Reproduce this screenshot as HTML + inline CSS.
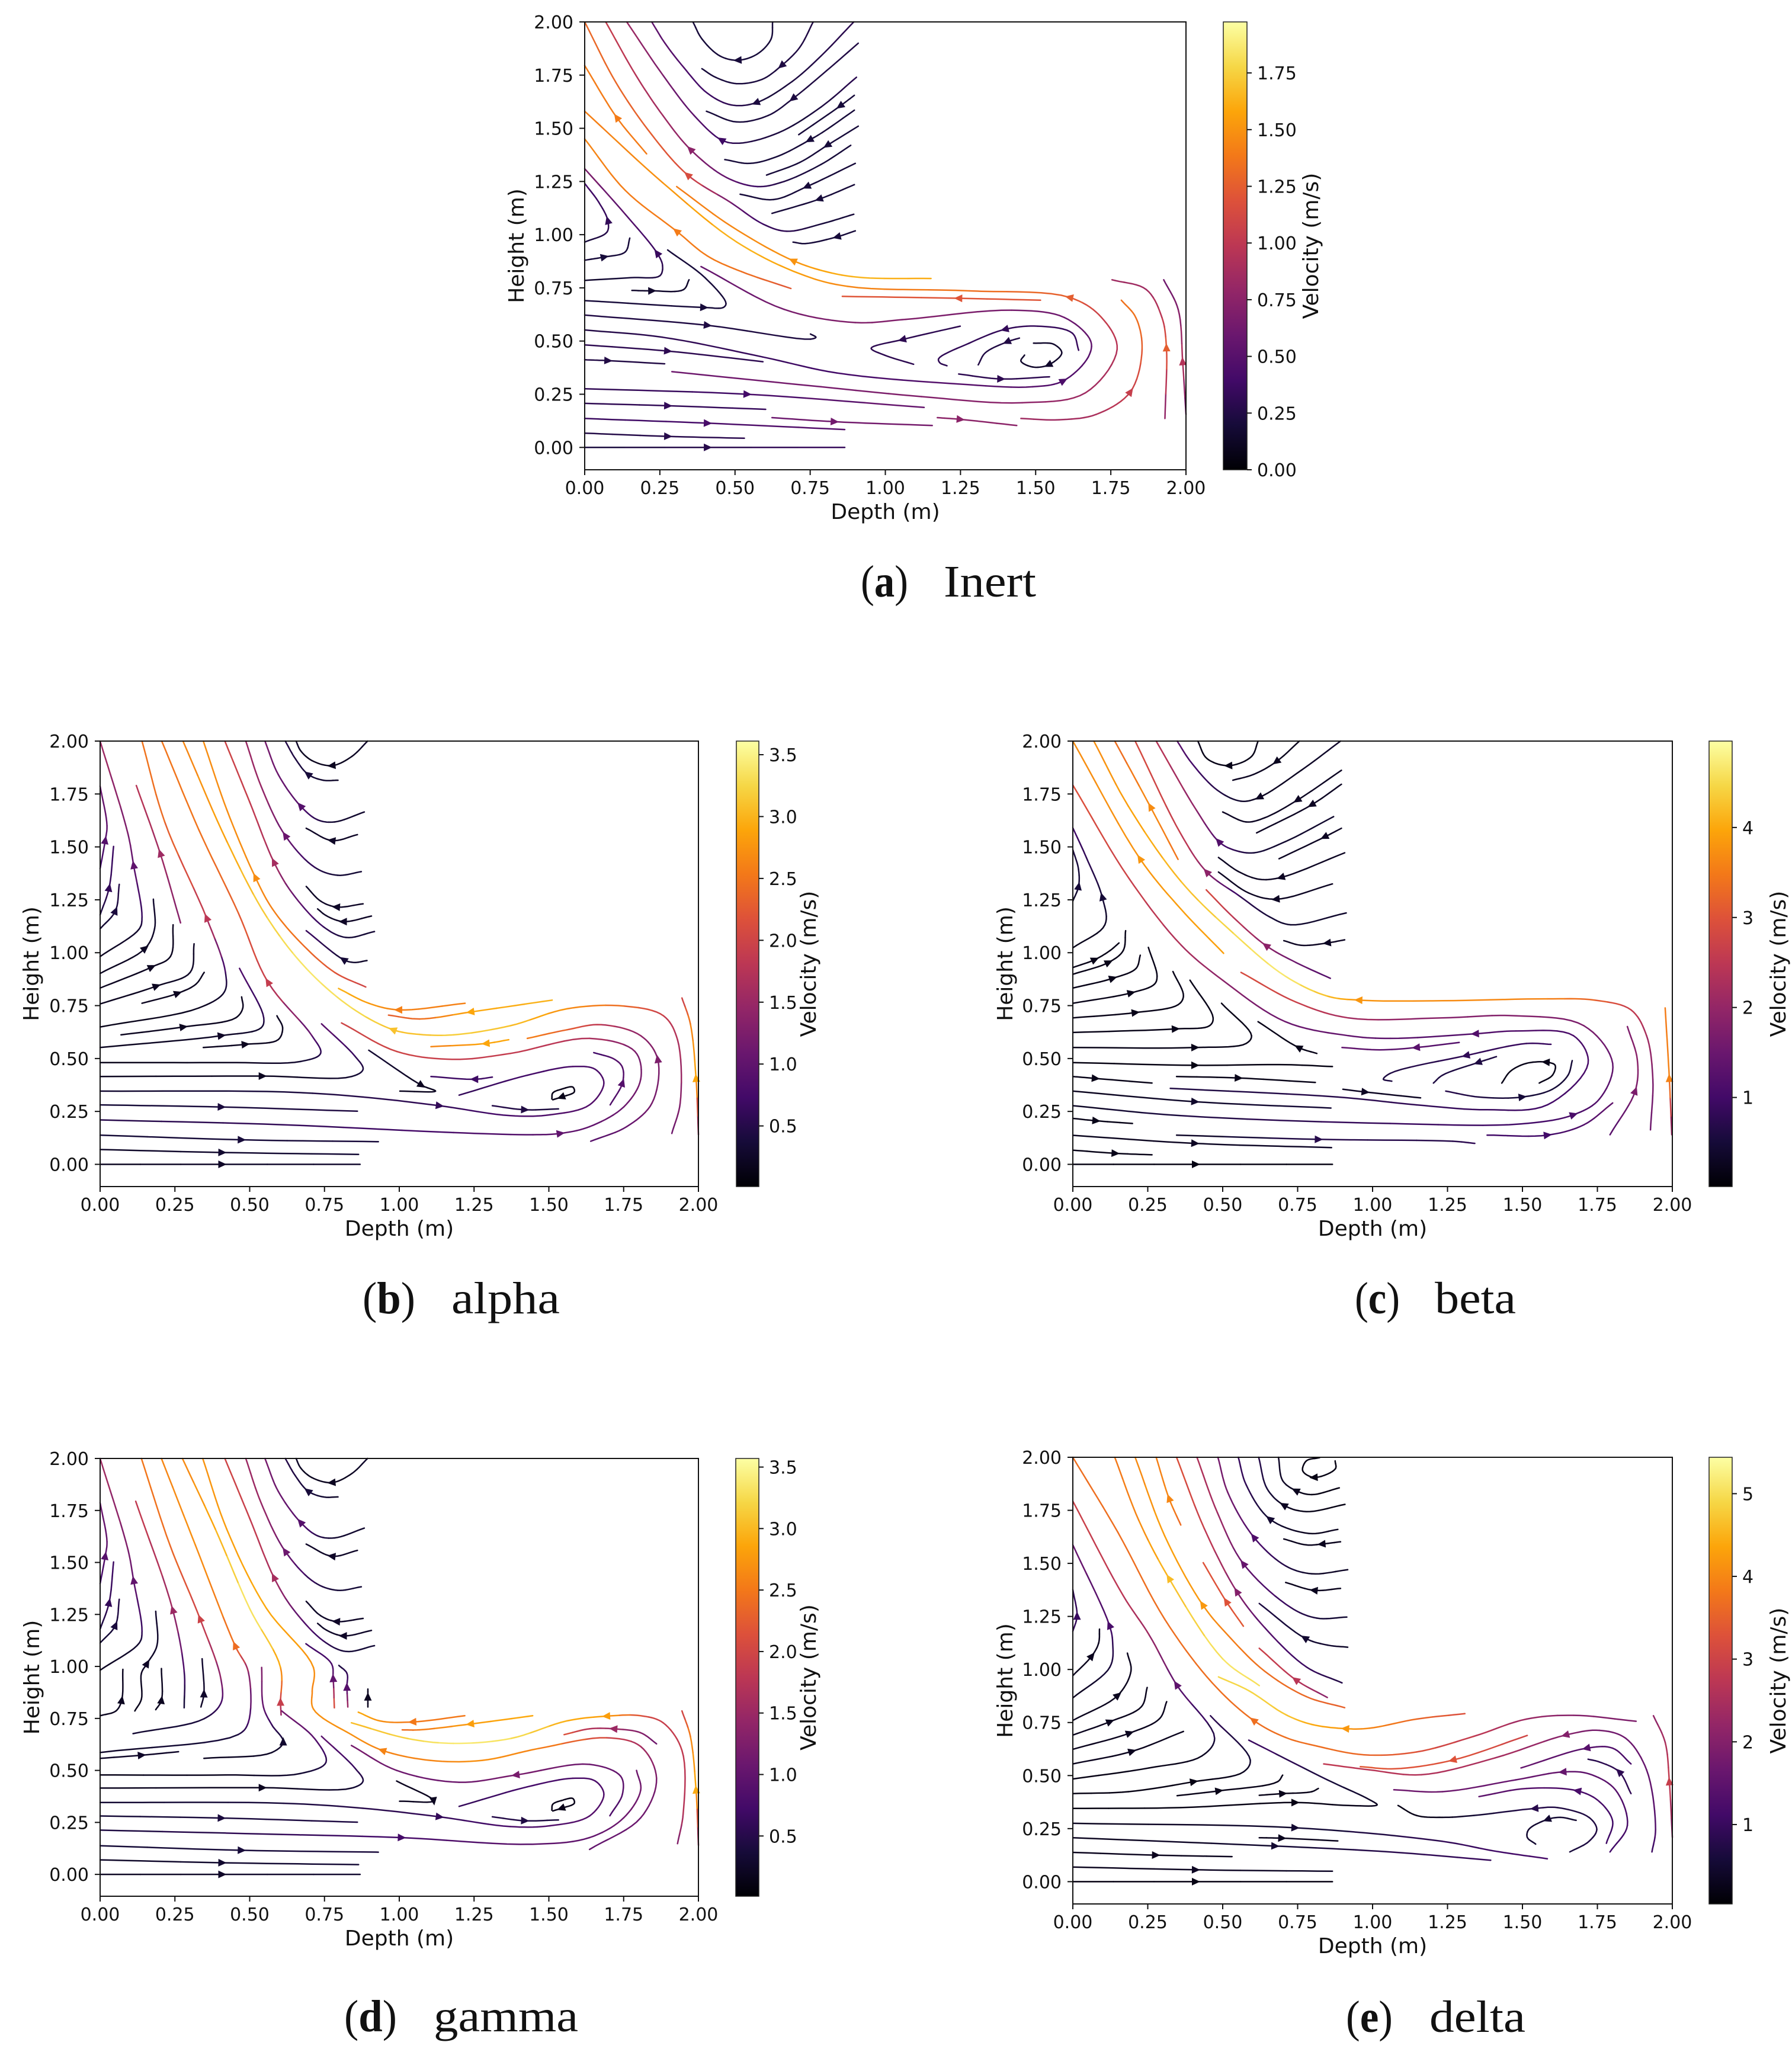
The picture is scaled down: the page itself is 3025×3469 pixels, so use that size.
<!DOCTYPE html>
<html lang="en">
<head>
<meta charset="utf-8">
<title>Velocity streamlines</title>
<style>
html,body{margin:0;padding:0;background:#fff;width:3025px;height:3469px;overflow:hidden}
svg{display:block}
text{font-family:"DejaVu Sans","Liberation Sans",sans-serif;fill:#111}
.cap{font-family:"Liberation Serif",serif;font-size:76px}
</style>
</head>
<body>
<svg id="fig" xmlns="http://www.w3.org/2000/svg" width="3025" height="3469" viewBox="0 0 3025 3469">
<defs>
<linearGradient id="inferno" x1="0" y1="1" x2="0" y2="0">
<stop offset="0" stop-color="#000004"/><stop offset=".1" stop-color="#160b39"/><stop offset=".2" stop-color="#420a68"/><stop offset=".3" stop-color="#6a176e"/><stop offset=".4" stop-color="#932667"/><stop offset=".5" stop-color="#bc3754"/><stop offset=".6" stop-color="#dd513a"/><stop offset=".7" stop-color="#f37819"/><stop offset=".8" stop-color="#fca50a"/><stop offset=".9" stop-color="#f6d746"/><stop offset="1" stop-color="#fcffa4"/>
</linearGradient>
</defs>
</svg>
<script>
// ---- axis data ----
const xTickValues = [0, 0.25, 0.5, 0.75, 1, 1.25, 1.5, 1.75, 2];
const yTickValues = [0, 0.25, 0.5, 0.75, 1, 1.25, 1.5, 1.75, 2];
const inertBarTicks = [0, 0.25, 0.5, 0.75, 1, 1.25, 1.5, 1.75];
const alphaBarTicks = [0.5, 1, 1.5, 2, 2.5, 3, 3.5];
const betaBarTicks = [1, 2, 3, 4];
const gammaBarTicks = [0.5, 1, 1.5, 2, 2.5, 3, 3.5];
const deltaBarTicks = [1, 2, 3, 4, 5];
const inertRange = [0, 1.975];
const alphaRange = [0.01, 3.61];
const betaRange = [0.01, 4.96];
const gammaRange = [0.01, 3.57];
const deltaRange = [0.04, 5.44];

// ---- streamlines: s = speed along the line (m/s), a = arrow vertex, p = x,y pairs in metres, in flow order ----
const inertLines = [
{s:[.2],a:3,p:[.625,2,.62,1.92,.575,1.85,.51,1.82,.45,1.84,.39,1.92,.36,2]},
{s:[.25,.2],a:2,p:[.76,2,.715,1.88,.655,1.795,.59,1.73,.505,1.71,.435,1.74,.39,1.78]},
{s:[.3,.25,.2,.3,.4,.5,.55],a:3,p:[.895,2,.786,1.84,.69,1.72,.57,1.62,.487,1.61,.408,1.665,.33,1.785,.267,1.9,.223,2]},
{s:[.3,.2,.25,.4,.6,.85],a:4,p:[.904,1.74,.786,1.6,.646,1.48,.514,1.43,.455,1.445,.364,1.56,.26,1.75,.14,2]},
{s:[.25,.2],a:2,p:[.91,1.9,.804,1.77,.693,1.64,.61,1.56,.505,1.53,.405,1.58]},
{s:[.2],a:1,p:[.897,1.655,.85,1.605,.712,1.47]},
{s:[.2],a:2,p:[.897,1.585,.79,1.48,.748,1.445,.645,1.37,.55,1.335,.466,1.353]},
{s:[.2],a:1,p:[.91,1.51,.807,1.42,.716,1.34,.605,1.28]},
{s:[.2,.2,.25,.35,.55,.75,.85,.95,1.05],a:5,p:[.885,1.42,.786,1.33,.663,1.25,.575,1.226,.47,1.27,.352,1.4,.26,1.56,.17,1.75,.07,2]},
{s:[.2],a:1,p:[.9,1.335,.739,1.226,.628,1.165,.517,1.19]},
{s:[.2],a:1,p:[.897,1.235,.78,1.167,.623,1.1]},
{s:[.2,.2,.3,.35,.6,1.15,1.25,1.3,1.3],a:5,p:[.895,1.096,.786,1.05,.672,1.016,.593,1.05,.487,1.15,.343,1.28,.223,1.47,.104,1.715,0,2]},
{s:[.2],a:1,p:[.9,1.018,.84,.99,.733,.958,.693,.965]},
{s:[1.4],a:1,p:[.206,1.38,.107,1.55,0,1.795]},
{s:[.6,.65,.7,.75,.85,.95,1.05,1.25,1.35,1.45,1.55,1.65,1.5,1.4],a:7,p:[.29,.356,.786,.285,1.12,.239,1.455,.21,1.666,.257,1.771,.462,1.719,.611,1.613,.705,1.279,.736,.874,.757,.716,.816,.505,.966,.259,1.245,0,1.58]},
{s:[1.6,1.65,1.6,1.5,1.45,1.4],a:3,p:[1.152,.794,.927,.798,.821,.82,.693,.878,.487,1.04,.306,1.226]},
{s:[1.2,1.35,1.4,1.4,1.4,1.45],a:3,p:[.686,.747,.522,.826,.408,.9,.306,1.016,.135,1.208,0,1.45]},
{s:[.15,.2,.25,.3,.35,.5,.7],a:4,p:[0,.785,.153,.798,.25,.807,.259,.854,.241,.913,.135,1.096,0,1.31]},
{s:[.2,.3,.35,.4],a:2,p:[0,.965,.074,1.012,.077,1.066,.047,1.152,0,1.241]},
{s:[.2],a:1,p:[0,.88,.065,.895,.135,.919,.15,.984]},
{s:[.15],a:1,p:[.157,.738,.223,.736,.329,.742,.347,.788]},
{s:[.2],a:1,p:[0,.69,.396,.658,.461,.658,.47,.677,.4,.798,.276,.928]},
{s:[.25,.2],a:1,p:[0,.622,.408,.574,.751,.509,.769,.518,.751,.533]},
{s:[.25,.3,.35,.4,.5,.5,.45,.5,.55,.6,.65,.7,.7,.65,.55],a:6,p:[0,.552,.259,.518,.593,.425,.839,.35,1.244,.298,1.49,.285,1.592,.313,1.675,.425,1.683,.5,1.595,.611,1.42,.645,1.068,.602,.9,.587,.663,.649,.387,.85]},
{s:[.3],a:1,p:[0,.482,.276,.453,.593,.403]},
{s:[.25],a:1,p:[0,.412,.077,.408,.266,.393]},
{s:[.3,.4,.6],a:1,p:[0,.276,.54,.25,1.129,.188]},
{s:[.3,.35],a:1,p:[0,.207,.276,.196,.602,.179]},
{s:[.35,.5],a:1,p:[0,.136,.408,.114,.865,.084]},
{s:[.25,.3],a:1,p:[0,.067,.276,.052,.531,.043]},
{s:[.2,.35],a:1,p:[0,0,.408,0,.865,0]},
{s:[.6,.65],a:1,p:[.623,.14,.83,.121,1.156,.103]},
{s:[.75],a:1,p:[1.173,.14,1.249,.132,1.437,.103]},
{s:[.85,.85,.9,1.05,1.25,1.35,1.35],a:3,p:[1.451,.136,1.578,.13,1.701,.155,1.815,.261,1.854,.462,1.833,.611,1.785,.692]},
{s:[.7,1.25,1,.85,.85],a:1,p:[1.93,.136,1.935,.468,1.92,.611,1.868,.742,1.754,.788]},
{s:[.6,.95,.7,.6],a:1,p:[2,.155,1.989,.403,1.974,.649,1.926,.788]},
{s:[1.2],a:1,p:[1.516,.692,1.244,.701,.857,.71]},
{s:[.3],a:1,p:[1.249,.57,1.057,.507,.953,.466,.997,.434,1.094,.391]},
{s:[.35,.3],a:3,p:[1.643,.457,1.622,.537,1.507,.57,1.398,.555,1.279,.49,1.177,.416,1.182,.397,1.205,.384]},
{s:[.25],a:1,p:[1.446,.514,1.405,.496,1.332,.444,1.309,.388]},
{s:[.15],a:3,p:[1.493,.49,1.56,.485,1.587,.444,1.543,.388,1.49,.378,1.451,.406,1.463,.434]},
{s:[.3],a:1,p:[1.244,.345,1.384,.322,1.546,.332]}
];
const alphaGammaSharedLines = [
{s:[.3,.2,.2,.2,.3],a:2,p:[.894,2,.841,1.927,.775,1.884,.708,1.908,.67,1.955,.655,2]},
{s:[.25,.5],a:2,p:[.795,1.815,.746,1.815,.695,1.843,.652,1.918,.619,2]},
{s:[.3,.3,.5,.9,1.1,1.2],a:3,p:[.883,1.665,.784,1.618,.727,1.628,.67,1.693,.595,1.843,.551,2]},
{s:[.25],a:1,p:[.86,1.558,.775,1.53,.689,1.588]},
{s:[.35,.35,.5,1.1,1.5,1.5],a:3,p:[.873,1.383,.794,1.366,.718,1.403,.619,1.553,.538,1.787,.487,2]},
{s:[.25],a:1,p:[.879,1.231,.79,1.216,.737,1.244,.689,1.313]},
{s:[.25],a:1,p:[.907,1.173,.813,1.147,.756,1.175,.727,1.207]},
{s:[.35,.35,.6,1.1,1.6,1.9,2],a:4,p:[.917,1.1,.822,1.072,.746,1.123,.642,1.282,.581,1.428,.5,1.712,.417,2]},
{s:[.3,.4,.5,.6,.8,.85,.9,.85,.8,.8,.75,.6],a:3,p:[0,.346,.614,.342,.879,.318,1.134,.277,1.371,.23,1.504,.234,1.636,.281,1.684,.384,1.655,.449,1.58,.462,1.428,.421,1.2,.327]},
{s:[.35,.45],a:1,p:[0,.281,.405,.271,.86,.251]},
{s:[.35,.4],a:1,p:[0,.138,.472,.116,.93,.107]},
{s:[.25,.35],a:1,p:[0,.07,.407,.056,.864,.047]},
{s:[.2,.3],a:1,p:[0,0,.407,0,.869,0]},
{s:[.2,.2,.3,.4,.6,1],a:1,p:[0,.415,.542,.417,.841,.415,.879,.449,.85,.514,.74,.664]},
{s:[.2,.3,.6,1,1.2,1.6],a:3,p:[0,.982,.131,1.113,.14,1.169,.112,1.413,.093,1.562,0,2]},
{s:[.7,.9,1,1.1],a:1,p:[0,1.398,.017,1.53,.023,1.6,0,1.787]},
{s:[.4,.6,.7],a:1,p:[0,1.179,.03,1.306,.045,1.502]},
{s:[.3,.4,.5],a:1,p:[0,1.113,.051,1.197,.064,1.323]},
{s:[1.4,2.9,2.6,1.9],a:1,p:[2,.14,1.992,.406,1.973,.664,1.945,.786]},
{s:[.5,.4],a:1,p:[1.311,.277,1.419,.258,1.532,.262]},
{s:[.15],a:5,p:[1.51,.309,1.513,.337,1.542,.355,1.58,.365,1.585,.342,1.542,.318,1.513,.305]}
];
const alphaOnlyLines = [
{s:[.25,.3,.35,.7],a:2,p:[.892,.963,.85,.954,.814,.967,.689,1.104]},
{s:[2,2.2,2.45,2.6,2.7,2.7,2.7],a:4,p:[.888,.838,.784,.907,.67,1.048,.576,1.207,.519,1.356,.424,1.674,.345,2]},
{s:[3,2.9,2.4,2.3],a:1,p:[1.511,.776,1.239,.72,1.068,.687,.964,.705]},
{s:[2.6,2.6,2.8,3],a:1,p:[1.22,.761,.998,.73,.898,.761,.797,.831]},
{s:[.15,.2,.3,.5,.9,1.9,2.3,2.5,2.5],a:5,p:[0,.481,.424,.481,.67,.486,.737,.524,.708,.608,.561,.861,.462,1.188,.33,1.581,.206,2]},
{s:[1.1,1.3,1.7,1.9,2.4,2.7,3.1,3.2,3.1,3.1,3.3,3.4,3.2,2.9,2.6],a:9,p:[1.911,.146,1.939,.29,1.93,.589,1.883,.702,1.75,.748,1.561,.735,1.371,.655,1.182,.612,1.068,.614,.979,.636,.841,.739,.689,.926,.557,1.169,.424,1.525,.277,2]},
{s:[.9,1.05,1.2,1.25,1.4,1.8,2.3,2.6],a:3,p:[1.64,.109,1.76,.178,1.845,.29,1.864,.496,1.807,.608,1.674,.66,1.561,.636,1.428,.595]},
{s:[.5,.6,.8,.9,1,1,1.1,1.2,1.2,1.7,1.9,1.9,2,2],a:4,p:[0,.21,.614,.187,1.182,.15,1.447,.14,1.538,.146,1.636,.178,1.75,.271,1.807,.402,1.788,.533,1.636,.595,1.371,.524,1.182,.496,.992,.533,.807,.668]},
{s:[.85,.9,.9,.9,.7],a:1,p:[1.705,.281,1.746,.384,1.746,.458,1.72,.496,1.65,.528]},
{s:[.2],a:1,p:[.345,.552,.485,.567,.595,.589,.61,.645,.591,.702]},
{s:[.2,.25,.3,.5,.9],a:1,p:[0,.552,.405,.608,.538,.645,.547,.692,.466,.926]},
{s:[.2],a:1,p:[.07,.612,.278,.649,.453,.692,.477,.739,.473,.791]},
{s:[.15,.2,.3,.6,1.8,2.4,2.5],a:4,p:[0,.649,.33,.739,.415,.814,.419,.907,.356,1.164,.216,1.618,.14,2]},
{s:[.2,.2,.25,.25],a:1,p:[0,.758,.188,.842,.301,.907,.314,1.042]},
{s:[.2],a:1,p:[.14,.761,.259,.808,.32,.851,.348,.907]},
{s:[.2],a:1,p:[0,.833,.172,.932,.235,.982,.244,1.132]},
{s:[.2,.25,.3],a:1,p:[0,.902,.15,1.02,.182,1.113,.178,1.253]},
{s:[1.3,1.55,1.8],a:1,p:[.269,1.141,.201,1.469,.121,1.79]},
{s:[.35,.2,.2,.2],a:1,p:[.898,.539,1.074,.374,1.121,.346,1.002,.346]},
{s:[.7],a:1,p:[1.311,.412,1.252,.402,1.106,.415]},
{s:[2.9,2.9,2.6],a:1,p:[1.366,.589,1.29,.571,1.106,.556]}
];
const gammaOnlyLines = [
{s:[2.3,1,.8,.7],a:1,p:[.783,.801,.779,.942,.773,1.014,.688,1.109]},
{s:[1.6,.9,.6,.4],a:1,p:[.828,.805,.825,.9,.825,.967,.798,1.005]},
{s:[.2],a:1,p:[.895,.805,.895,.853,.895,.891]},
{s:[.2],a:2,p:[0,.763,.053,.786,.072,.837,.076,.986]},
{s:[.15,.2,.25,.3],a:3,p:[.116,.786,.138,.843,.138,.967,.157,1.014,.19,1.1,.186,1.265]},
{s:[.2],a:1,p:[.186,.792,.205,.837,.205,.99]},
{s:[.3,.7,1.5,1.9],a:2,p:[.281,.801,.281,.976,.243,1.271,.119,1.794]},
{s:[.25,.3],a:1,p:[.337,.805,.347,.868,.341,1.037]},
{s:[.3,.4,.7,1.3,1.95,2.4,2.5],a:4,p:[.11,.677,.347,.748,.404,.824,.404,.938,.334,1.229,.233,1.585,.138,2]},
{s:[.25,.4,.7,1.4,2.4,2.7,2.6],a:4,p:[0,.586,.461,.672,.495,.729,.495,.976,.451,1.1,.318,1.585,.205,2]},
{s:[.25],a:1,p:[0,.558,.138,.573,.262,.59]},
{s:[.2,.25,.3,.6,1,1.3],a:2,p:[.347,.558,.574,.586,.612,.637,.574,.719,.546,.805,.54,.995]},
{s:[1.4,1.9,2.8,3.4,2.9,2.6],a:1,p:[.605,.767,.603,.828,.603,.995,.499,1.281,.385,1.661,.275,2]},
{s:[1,1.1,1.2,1.6,2,2.6,2.7,2.6,2.6,2.7,2.7,2.6,2.7,2.9,2.8,2.7],a:8,p:[1.636,.12,1.807,.272,1.86,.462,1.807,.615,1.693,.657,1.465,.605,1.276,.548,1.105,.548,.944,.596,.84,.672,.713,.795,.709,.881,.713,.995,.555,1.281,.423,1.661,.343,2]},
{s:[1.2,1.7,1.85,1.9,2.1,2.8,2.9,3.3,3.4,3.2,3],a:5,p:[1.93,.148,1.949,.291,1.945,.596,1.882,.729,1.807,.763,1.693,.761,1.56,.738,1.371,.653,1.181,.63,1.029,.653,.84,.729]},
{s:[1.1,1.3,1.5,1.7,2.2],a:2,p:[1.86,.628,1.807,.681,1.717,.7,1.636,.7,1.551,.672]},
{s:[2.9,2.8,2.5,2.4],a:1,p:[1.446,.763,1.238,.723,1.067,.695,1.01,.695]},
{s:[2.5,2.5,2.7,2.9],a:1,p:[1.219,.763,1.045,.733,.935,.738,.863,.78]},
{s:[.4,.6,.75,.95,1,1.1,1.15,1.1],a:2,p:[0,.213,.612,.192,1.007,.177,1.446,.145,1.636,.177,1.75,.272,1.807,.405,1.793,.5]},
{s:[.8,.9,1,1.1,1.2,1.1,1.1,1.2],a:4,p:[1.704,.282,1.746,.386,1.74,.472,1.636,.529,1.39,.478,1.2,.443,.991,.5,.84,.62]},
{s:[.2],a:1,p:[.991,.449,1.115,.354,1.001,.352]},
{s:[.15,.2,.3,.5,.9,1.2],a:-1,p:[0,.478,.423,.478,.669,.485,.755,.539,.717,.653,.607,.786]}
];
const betaLines = [
{s:[.2],a:2,p:[.618,2,.596,1.927,.52,1.884,.447,1.918,.417,2]},
{s:[.25,.3],a:1,p:[.756,2,.679,1.903,.604,1.843,.534,1.815]},
{s:[.4,.3,.3,.5,1,1.3],a:2,p:[.893,2,.762,1.862,.622,1.734,.561,1.716,.482,1.768,.395,1.899,.348,2]},
{s:[.3],a:1,p:[.896,1.862,.749,1.721,.639,1.637,.578,1.618,.5,1.665]},
{s:[.3],a:1,p:[.896,1.796,.797,1.699,.613,1.566]},
{s:[.4,.4,.5,.8,1.2,1.9,2.5],a:4,p:[.87,1.643,.709,1.525,.604,1.472,.534,1.487,.487,1.525,.412,1.674,.278,2]},
{s:[.3],a:1,p:[.896,1.588,.84,1.547,.688,1.444]},
{s:[.3],a:1,p:[.907,1.472,.695,1.356,.622,1.347,.552,1.384,.486,1.45]},
{s:[.3],a:1,p:[.866,1.325,.678,1.253,.587,1.282,.486,1.381]},
{s:[.4,.4,.5,.8,1.9,2.6,2.9],a:4,p:[.912,1.188,.727,1.132,.657,1.169,.552,1.272,.447,1.381,.36,1.562,.208,2]},
{s:[.3],a:1,p:[.907,1.061,.849,1.046,.762,1.035,.704,1.057]},
{s:[1.2,1.5,1.9,2.5,2.9],a:2,p:[.859,.879,.744,.954,.645,1.033,.534,1.169,.445,1.297]},
{s:[3.4,3.7,3.3],a:1,p:[.351,1.441,.259,1.689,.14,2]},
{s:[1.5,1.7,2.2,2.6,3.2,3.6,3.7,3.8,4.2,4.7,4.5,4.2,3.9,3.7],a:7,p:[1.927,.163,1.935,.402,1.914,.608,1.862,.73,1.74,.776,1.583,.782,1.233,.773,.954,.776,.849,.795,.709,.889,.534,1.094,.36,1.338,.185,1.693,.07,2]},
{s:[3.9,3.9,3.8,3.7],a:2,p:[.503,.997,.36,1.207,.224,1.444,0,2]},
{s:[.3,.6,.9,1,1.1,1.2,1.4,1.7,1.8,1.8,2.2,2.7,2.9],a:4,p:[0,.277,.36,.23,1.059,.193,1.495,.191,1.67,.234,1.757,.309,1.801,.477,1.705,.655,1.478,.702,1.233,.692,.919,.692,.744,.767,.561,.907]},
{s:[.6,.7,.8,.9,1,1.1,1.1,1.2,1.2,1.3,1.4,1.5,1.9,2.3,2.7,3],a:8,p:[.325,.359,.884,.318,1.146,.281,1.382,.258,1.583,.281,1.719,.477,1.67,.608,1.478,.63,1.343,.617,1.059,.595,.919,.608,.709,.674,.5,.87,.36,1.038,.185,1.356,0,1.792]},
{s:[.25,.5],a:1,p:[0,.346,.407,.296,.861,.266]},
{s:[.2,.3,.5,.8,1],a:2,p:[0,1.023,.107,1.132,.098,1.263,.045,1.45,0,1.59]},
{s:[.3,.5,.5,.6],a:1,p:[0,1.244,.019,1.313,.019,1.394,0,1.487]},
{s:[.2],a:1,p:[0,.93,.073,.967,.124,1.01,.154,1.046]},
{s:[.2],a:1,p:[0,.898,.119,.954,.168,1.01,.176,1.104]},
{s:[.2],a:1,p:[0,.833,.133,.879,.211,.926,.225,.988]},
{s:[.2],a:1,p:[0,.761,.194,.81,.272,.851,.281,.889,.252,1.025]},
{s:[.2],a:1,p:[0,.692,.208,.717,.351,.754,.369,.795,.334,.911]},
{s:[.2],a:1,p:[0,.623,.342,.64,.456,.655,.468,.692,.391,.87]},
{s:[.2],a:1,p:[0,.552,.407,.552,.578,.571,.596,.608,.496,.761]},
{s:[.15],a:1,p:[0,.481,.407,.468,.709,.471,.866,.462]},
{s:[.2],a:1,p:[0,.415,.075,.406,.264,.384]},
{s:[.2],a:1,p:[.346,.415,.552,.408,.809,.387]},
{s:[.2],a:1,p:[0,.217,.077,.206,.199,.193]},
{s:[.25,.35],a:1,p:[0,.137,.407,.099,.863,.079]},
{s:[.2],a:1,p:[0,.067,.141,.052,.264,.045]},
{s:[.15],a:1,p:[0,0,.409,0,.866,0]},
{s:[.3,.7,.7,.8],a:1,p:[.346,.138,.819,.118,1.268,.109,1.341,.099]},
{s:[1,1,1.2,1.4],a:1,p:[1.382,.138,1.583,.138,1.705,.187,1.801,.29]},
{s:[1.2,1.7,1.9,1.7],a:1,p:[1.792,.14,1.876,.346,1.883,.496,1.85,.651]},
{s:[1.8,3.6,3.5],a:1,p:[1.998,.14,1.99,.406,1.976,.739]},
{s:[1.2,1.3,1.3,1.4],a:1,p:[1.289,.576,1.146,.552,1.024,.541,.898,.552]},
{s:[.2],a:1,p:[.814,.524,.753,.552,.618,.674]},
{s:[.9,.9,.8,.6,.6,.6],a:2,p:[1.595,.567,1.513,.571,1.312,.514,1.059,.43,1.036,.402,1.064,.393]},
{s:[.6],a:1,p:[1.413,.509,1.352,.481,1.233,.421,1.203,.384]},
{s:[.2],a:3,p:[1.556,.384,1.6,.421,1.609,.468,1.579,.483,1.513,.477,1.46,.44,1.431,.384]},
{s:[.7,.6,.5,.5,.5,.5],a:2,p:[1.244,.346,1.355,.318,1.499,.318,1.6,.355,1.652,.421,1.666,.49]},
{s:[.3],a:1,p:[.901,.355,.975,.342,1.16,.314]}
];
const deltaLines = [
{s:[.2],a:2,p:[.875,1.983,.876,1.946,.805,1.905,.767,1.936,.779,1.983,.823,1.998]},
{s:[.2,.2,.3,.4,.4],a:2,p:[.889,1.856,.797,1.824,.744,1.843,.7,1.89,.686,2]},
{s:[.2,.25,.35,.6,.8],a:2,p:[.908,1.778,.779,1.744,.704,1.774,.648,1.852,.62,2]},
{s:[.3,.3,.5,.9,1],a:2,p:[.884,1.66,.788,1.641,.657,1.709,.578,1.871,.552,2]},
{s:[.3],a:1,p:[.893,1.602,.831,1.591,.779,1.587,.704,1.615]},
{s:[.4,.4,.7,1.3,1.8,1.8],a:3,p:[.917,1.47,.797,1.451,.71,1.488,.604,1.623,.517,1.834,.484,2]},
{s:[.3],a:1,p:[.893,1.382,.805,1.373,.71,1.41]},
{s:[.5,.6,.9,1.6,2.4,2.6],a:3,p:[.914,1.247,.814,1.242,.727,1.292,.569,1.498,.482,1.74,.414,2]},
{s:[.4,.5,.5,.7],a:2,p:[.917,1.105,.849,1.115,.774,1.148,.622,1.311]},
{s:[.7,1,1.4,2,2.9,3.3],a:3,p:[.898,.937,.779,1.012,.639,1.199,.547,1.367,.438,1.666,.346,2]},
{s:[2,2.7,3],a:1,p:[.849,.868,.744,.951,.622,1.1]},
{s:[3.4,3.3,3.3],a:1,p:[.569,1.204,.512,1.32,.435,1.503]},
{s:[3.6,4,3.9],a:1,p:[.36,1.681,.321,1.806,.278,2]},
{s:[3.5,3.6,3.7,3.9,4.2,4.3,4],a:4,p:[.907,.82,.779,.872,.639,.993,.517,1.162,.433,1.305,.307,1.628,.208,2]},
{s:[5,5.1,4.6,4,3.8],a:2,p:[.622,.924,.5,1.05,.321,1.429,.22,1.703,.14,2]},
{s:[3.2,3.6,4,4.2,4.4,4.7,4.9,4.9],a:3,p:[1.308,.792,1.146,.766,.989,.723,.91,.721,.797,.741,.709,.788,.587,.9,.486,.965]},
{s:[1.9,2,2.3,2.8,3.3,3.6,3.7,3.7,3.7,3.7,3.7,3.7,3.7],a:8,p:[1.879,.756,1.67,.784,1.513,.766,1.338,.685,1.146,.611,.971,.598,.814,.639,.709,.68,.603,.76,.465,.937,.307,1.236,.15,1.647,0,2]},
{s:[.2,.25,.3,.6,1.5,2.3,2.7,3],a:4,p:[0,.484,.255,.536,.43,.592,.473,.676,.346,.928,.255,1.162,.168,1.348,0,1.793]},
{s:[.3,.6,.9,1.2,1.7],a:3,p:[0,.866,.124,1.012,.133,1.124,.122,1.208,0,1.587]},
{s:[.9,1,.9],a:1,p:[0,1.18,.014,1.251,0,1.376]},
{s:[.3],a:1,p:[0,.971,.063,1.063,.086,1.124,.089,1.19]},
{s:[.3],a:1,p:[0,.76,.15,.878,.194,.993,.182,1.077]},
{s:[.3],a:1,p:[0,.691,.124,.754,.229,.825,.248,.915]},
{s:[.3],a:1,p:[0,.624,.189,.7,.29,.769,.313,.848]},
{s:[.3],a:1,p:[0,.555,.197,.614,.369,.708]},
{s:[.2,.2,.2,.3,.5,.9],a:2,p:[0,.415,.185,.424,.403,.471,.569,.517,.592,.573,.459,.782]},
{s:[.25],a:1,p:[.348,.405,.487,.428,.683,.471,.7,.502]},
{s:[.25],a:1,p:[.622,.407,.7,.415,.797,.424,.819,.439]},
{s:[.15,.2,.2,.25,.3,.4,.6,1.1],a:2,p:[0,.345,.36,.349,.741,.373,.919,.359,1.015,.362,.989,.387,.849,.48,.587,.667]},
{s:[.3,.5,.9,1.1,1.2],a:1,p:[0,.275,.741,.254,1.233,.19,1.408,.144,1.583,.108]},
{s:[.3,.5,.8,1],a:1,p:[0,.207,.674,.168,1.059,.14,1.394,.101]},
{s:[.3],a:1,p:[.622,.207,.697,.205,.884,.192]},
{s:[.3],a:1,p:[0,.138,.276,.125,.531,.118]},
{s:[.3,.4],a:1,p:[0,.069,.409,.056,.866,.049]},
{s:[.2],a:1,p:[0,0,.409,0,.866,0]},
{s:[.6,.7,.7,.7,.7,.8,.5,.3,.25,.2],a:5,p:[1.658,.14,1.722,.19,1.748,.246,1.722,.303,1.617,.349,1.541,.345,1.338,.312,1.233,.303,1.146,.312,1.085,.359]},
{s:[.5],a:2,p:[1.679,.289,1.626,.303,1.583,.293,1.521,.246,1.516,.209,1.544,.177]},
{s:[1.1,1.1,1.2,1.2,1.4,1.5],a:3,p:[1.78,.181,1.801,.284,1.757,.377,1.684,.428,1.513,.439,1.355,.401]},
{s:[1.1,1.2,1.4,1.5,1.6,1.6,1.7,1.7],a:4,p:[1.792,.14,1.85,.265,1.81,.433,1.722,.508,1.635,.517,1.478,.48,1.233,.424,1.071,.433]},
{s:[.9,.8],a:1,p:[1.862,.415,1.823,.517,1.757,.564,1.719,.577]},
{s:[1.2,1.3,1.4,1.6],a:2,p:[1.862,.555,1.801,.629,1.714,.629,1.495,.536]},
{s:[1,1.3,1.6,1.7,1.8,2,2.5,2.6,2.7,2.8],a:5,p:[1.932,.14,1.944,.246,1.914,.527,1.844,.676,1.757,.713,1.644,.691,1.408,.583,1.163,.504,.989,.527,.837,.555]},
{s:[3,3.3,3.3,3.4],a:1,p:[1.516,.689,1.268,.573,1.076,.532,.959,.542]},
{s:[2,2.9,2.5,2.1],a:1,p:[2,.209,1.99,.471,1.976,.657,1.937,.782]}
];

// ---- rendering ----
const NS = 'http://www.w3.org/2000/svg';
const root = document.getElementById('fig');
const yDomain = [-0.105, 2];
const xDomain = [0, 2];
const infernoStops = ['#000004','#160b39','#420a68','#6a176e','#932667','#bc3754','#dd513a','#f37819','#fca50a','#f6d746','#fcffa4'];

function hexRgb(h){return [parseInt(h.slice(1,3),16),parseInt(h.slice(3,5),16),parseInt(h.slice(5,7),16)];}
function colorFor(v, range){
  let t = (v-range[0])/(range[1]-range[0]);
  t = Math.max(0,Math.min(1,t))*(infernoStops.length-1);
  const i = Math.min(Math.floor(t),infernoStops.length-2), f = t-i;
  const a = hexRgb(infernoStops[i]), b = hexRgb(infernoStops[i+1]);
  return 'rgb('+a.map((c,k)=>Math.round(c+(b[k]-c)*f)).join(',')+')';
}
function speedAt(s, frac){
  if(s.length===1) return s[0];
  const t = frac*(s.length-1), i = Math.min(Math.floor(t),s.length-2);
  return s[i]+(s[i+1]-s[i])*(t-i);
}
function make(tag,parent){const el=document.createElementNS(NS,tag);parent.appendChild(el);return el;}
function lerp(a,b,ta,tb,t){const w=(tb===ta)?0:(t-ta)/(tb-ta);return [a[0]+(b[0]-a[0])*w,a[1]+(b[1]-a[1])*w];}
function centripetal(p0,p1,p2,p3,u){
  const d=(a,b)=>Math.max(1e-3,Math.sqrt(Math.hypot(a[0]-b[0],a[1]-b[1])));
  const t0=0,t1=t0+d(p0,p1),t2=t1+d(p1,p2),t3=t2+d(p2,p3);
  const t=t1+(t2-t1)*u;
  const A1=lerp(p0,p1,t0,t1,t),A2=lerp(p1,p2,t1,t2,t),A3=lerp(p2,p3,t2,t3,t);
  const B1=lerp(A1,A2,t0,t2,t),B2=lerp(A2,A3,t1,t3,t);
  return lerp(B1,B2,t1,t2,t);
}

function drawPanel(cfg){
  const g = make('g',root);
  
  
  const sx = x => cfg.left+(x-xDomain[0])/(xDomain[1]-xDomain[0])*(cfg.right-cfg.left);
  const sy = y => cfg.bottom-(y-yDomain[0])/(yDomain[1]-yDomain[0])*(cfg.bottom-cfg.top);
  const sb = v => cfg.bottom-(v-cfg.range[0])/(cfg.range[1]-cfg.range[0])*(cfg.bottom-cfg.top);

  cfg.lines.forEach(line=>{
    const lg = make('g',g);
    
    
    const pts=[];
    for(let i=0;i<line.p.length;i+=2) pts.push([sx(line.p[i]),sy(line.p[i+1])]);
    const n=pts.length-1, pieces=3, steps=3;
    for(let i=0;i<n;i++){
      const p0=i>0?pts[i-1]:[2*pts[0][0]-pts[1][0],2*pts[0][1]-pts[1][1]];
      const p3=i<n-1?pts[i+2]:[2*pts[n][0]-pts[n-1][0],2*pts[n][1]-pts[n-1][1]];
      for(let k=0;k<pieces;k++){
        let d='';
        for(let q=0;q<=steps;q++){
          const u=(k+q/steps)/pieces;
          const c=centripetal(p0,pts[i],pts[i+1],p3,u);
          d+=(q?'L':'M')+c[0].toFixed(1)+' '+c[1].toFixed(1);
        }
        const seg=make('path',lg);
        seg.setAttribute('d',d);
        seg.setAttribute('fill','none');
        seg.setAttribute('stroke-width','2.5');
        seg.setAttribute('stroke-linecap','round');
        seg.setAttribute('stroke',colorFor(speedAt(line.s,(i+(k+.5)/pieces)/n),cfg.range));
        
        
      }
    }
    if(line.a>=0){
      const i=Math.min(line.a,n);
      const a=pts[Math.max(i-1,0)],b=pts[Math.min(i+1,n)];
      const L=Math.hypot(b[0]-a[0],b[1]-a[1])||1, ux=(b[0]-a[0])/L, uy=(b[1]-a[1])/L;
      const c=pts[i];
      const tip=[c[0]+ux*8,c[1]+uy*8];
      const bl=[c[0]-ux*6-uy*6.5,c[1]-uy*6+ux*6.5];
      const br=[c[0]-ux*6+uy*6.5,c[1]-uy*6-ux*6.5];
      const arrow=make('polygon',lg);
      arrow.setAttribute('points',[tip,bl,br].map(q=>q[0].toFixed(1)+','+q[1].toFixed(1)).join(' '));
      arrow.setAttribute('fill',colorFor(speedAt(line.s,i/n),cfg.range));
      
      
    }
  });

  const frame=make('rect',g);
  frame.setAttribute('x',cfg.left);
  frame.setAttribute('y',cfg.top);
  frame.setAttribute('width',cfg.right-cfg.left);
  frame.setAttribute('height',cfg.bottom-cfg.top);
  frame.setAttribute('fill','none');
  frame.setAttribute('stroke','#111');
  frame.setAttribute('stroke-width','2');
  
  

  xTickValues.forEach(v=>{
    const t=make('line',g);
    t.setAttribute('x1',sx(v));t.setAttribute('x2',sx(v));
    t.setAttribute('y1',cfg.bottom);t.setAttribute('y2',cfg.bottom+9);
    t.setAttribute('stroke','#111');t.setAttribute('stroke-width','2');
    
    
    const lab=make('text',g);
    lab.textContent=v.toFixed(2);
    lab.setAttribute('x',sx(v));lab.setAttribute('y',cfg.bottom+41);
    lab.setAttribute('text-anchor','middle');lab.setAttribute('font-size','30');
    
    
  });
  yTickValues.forEach(v=>{
    const t=make('line',g);
    t.setAttribute('x1',cfg.left-9);t.setAttribute('x2',cfg.left);
    t.setAttribute('y1',sy(v));t.setAttribute('y2',sy(v));
    t.setAttribute('stroke','#111');t.setAttribute('stroke-width','2');
    
    
    const lab=make('text',g);
    lab.textContent=v.toFixed(2);
    lab.setAttribute('x',cfg.left-19);lab.setAttribute('y',sy(v)+11);
    lab.setAttribute('text-anchor','end');lab.setAttribute('font-size','30');
    
    
  });

  const xt=make('text',g);
  xt.textContent='Depth (m)';
  xt.setAttribute('x',(cfg.left+cfg.right)/2);xt.setAttribute('y',cfg.bottom+83);
  xt.setAttribute('text-anchor','middle');xt.setAttribute('font-size','36');
  
  
  const yt=make('text',g);
  yt.textContent='Height (m)';
  yt.setAttribute('transform','translate('+cfg.yTitleX+' '+(cfg.top+cfg.bottom)/2+') rotate(-90)');
  yt.setAttribute('text-anchor','middle');yt.setAttribute('font-size','36');
  
  

  const bar=make('rect',g);
  bar.setAttribute('x',cfg.barLeft);bar.setAttribute('y',cfg.top);
  bar.setAttribute('width',cfg.barRight-cfg.barLeft);bar.setAttribute('height',cfg.bottom-cfg.top);
  bar.setAttribute('fill','url(#inferno)');bar.setAttribute('stroke','#222');bar.setAttribute('stroke-width','1.5');
  
  
  cfg.barTicks.forEach(v=>{
    const t=make('line',g);
    t.setAttribute('x1',cfg.barRight);t.setAttribute('x2',cfg.barRight+8);
    t.setAttribute('y1',sb(v));t.setAttribute('y2',sb(v));
    t.setAttribute('stroke','#111');t.setAttribute('stroke-width','2');
    
    
    const lab=make('text',g);
    lab.textContent=v.toFixed(cfg.barDigits);
    lab.setAttribute('x',cfg.barRight+17);lab.setAttribute('y',sb(v)+11);
    lab.setAttribute('font-size','30');
    
    
  });
  const bt=make('text',g);
  bt.textContent='Velocity (m/s)';
  bt.setAttribute('transform','translate('+cfg.barTitleX+' '+(cfg.top+cfg.bottom)/2+') rotate(-90)');
  bt.setAttribute('text-anchor','middle');bt.setAttribute('font-size','36');
  
  

  const c1=make('text',g);
  c1.setAttribute('class','cap');
  c1.setAttribute('x',cfg.capA[0]);c1.setAttribute('y',cfg.capY);
  c1.setAttribute('textLength',cfg.capA[1]-cfg.capA[0]);c1.setAttribute('lengthAdjust','spacingAndGlyphs');
  
  
  c1.appendChild(document.createTextNode('('));
  const b=make('tspan',c1);
  b.setAttribute('font-weight','bold');
  b.textContent=cfg.letter;
  c1.appendChild(document.createTextNode(')'));
  const c2=make('text',g);
  c2.setAttribute('class','cap');
  c2.textContent=cfg.title;
  c2.setAttribute('x',cfg.capB[0]);c2.setAttribute('y',cfg.capY);
  c2.setAttribute('textLength',cfg.capB[1]-cfg.capB[0]);c2.setAttribute('lengthAdjust','spacingAndGlyphs');
  
  
}

drawPanel({key:'inert',letter:'a',title:'Inert',left:987,right:2002,top:37,bottom:793,barLeft:2065,barRight:2105,yTitleX:884,barTitleX:2225,capA:[1453,1533],capB:[1593,1749],capY:1007,range:inertRange,barTicks:inertBarTicks,barDigits:2,lines:inertLines});
drawPanel({key:'alpha',letter:'b',title:'alpha',left:169,right:1179,top:1251,bottom:2003,barLeft:1243,barRight:1281,yTitleX:65,barTitleX:1377,capA:[612,701],capB:[762,945],capY:2217,range:alphaRange,barTicks:alphaBarTicks,barDigits:1,lines:alphaGammaSharedLines.concat(alphaOnlyLines)});
drawPanel({key:'beta',letter:'c',title:'beta',left:1811,right:2823,top:1251,bottom:2003,barLeft:2885,barRight:2924,yTitleX:1709,barTitleX:3014,capA:[2287,2363],capB:[2422,2559],capY:2217,range:betaRange,barTicks:betaBarTicks,barDigits:0,lines:betaLines});
drawPanel({key:'gamma',letter:'d',title:'gamma',left:169,right:1179,top:2462,bottom:3201,barLeft:1242,barRight:1281,yTitleX:66,barTitleX:1377,capA:[581,670],capB:[732,976],capY:3429,range:gammaRange,barTicks:gammaBarTicks,barDigits:1,lines:alphaGammaSharedLines.concat(gammaOnlyLines)});
drawPanel({key:'delta',letter:'e',title:'delta',left:1811,right:2823,top:2460,bottom:3214,barLeft:2885,barRight:2924,yTitleX:1709,barTitleX:3014,capA:[2272,2351],capB:[2413,2575],capY:3430,range:deltaRange,barTicks:deltaBarTicks,barDigits:0,lines:deltaLines});
</script>
</body>
</html>
